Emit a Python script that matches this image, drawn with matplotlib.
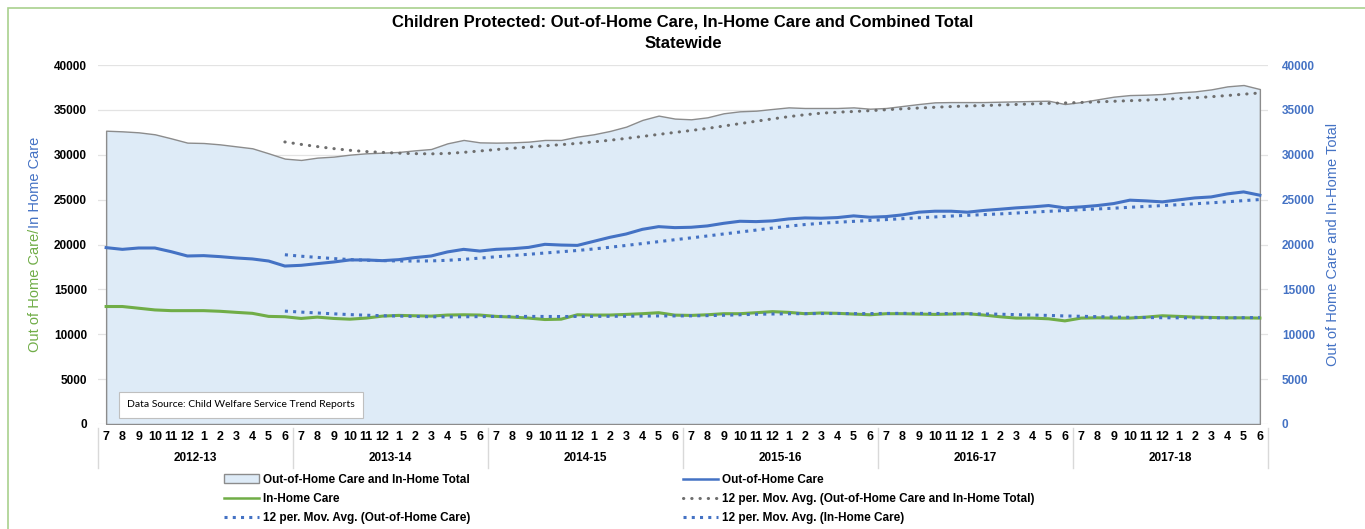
import matplotlib
matplotlib.use("Agg")
import matplotlib.pyplot as plt
import matplotlib.patches as mpatches
import matplotlib.transforms as mtransforms
from matplotlib.lines import Line2D
import numpy as np
import pandas as pd

plt.rcParams['font.family'] = ['Liberation Sans', 'DejaVu Sans']

# monthly values, July 2012 .. June 2018
total = [32680, 32610, 32500, 32280, 31830, 31350, 31310, 31160, 30940, 30720, 30160, 29570,
         29420, 29680, 29790, 30010, 30160, 30230, 30310, 30490, 30640, 31270, 31650, 31380,
         31350, 31380, 31460, 31650, 31650, 32020, 32280, 32650, 33130, 33880, 34360, 34030,
         33950, 34170, 34620, 34840, 34910, 35100, 35280, 35210, 35210, 35210, 35280, 35130,
         35210, 35430, 35650, 35840, 35870, 35870, 35870, 35910, 35950, 35990, 36020, 35650,
         35870, 36170, 36470, 36650, 36690, 36770, 36950, 37060, 37280, 37620, 37770, 37320]
out_of_home = [19650, 19460, 19610, 19610, 19200, 18720, 18760, 18650, 18500, 18390, 18160, 17600,
               17680, 17870, 18050, 18280, 18280, 18200, 18310, 18540, 18720, 19170, 19460, 19270,
               19460, 19530, 19680, 20020, 19940, 19900, 20350, 20800, 21170, 21690, 21990, 21880,
               21920, 22070, 22360, 22590, 22550, 22630, 22850, 22960, 22930, 23000, 23190, 23040,
               23110, 23300, 23600, 23710, 23710, 23600, 23790, 23930, 24080, 24190, 24340, 24080,
               24190, 24340, 24560, 24940, 24860, 24750, 24970, 25190, 25300, 25640, 25860, 25490]
in_home = [13090, 13090, 12900, 12710, 12630, 12630, 12630, 12560, 12440, 12330, 11990, 11950,
           11760, 11910, 11760, 11680, 11800, 12020, 12100, 12060, 12020, 12140, 12170, 12140,
           11990, 11910, 11800, 11640, 11680, 12170, 12140, 12140, 12210, 12290, 12400, 12130,
           12100, 12170, 12290, 12290, 12400, 12520, 12440, 12290, 12370, 12330, 12250, 12170,
           12290, 12290, 12250, 12210, 12250, 12290, 12140, 11950, 11800, 11800, 11720, 11490,
           11800, 11830, 11800, 11800, 11910, 12060, 11990, 11910, 11870, 11830, 11830, 11800]

months = ["7", "8", "9", "10", "11", "12", "1", "2", "3", "4", "5", "6"]
fiscal_years = ["2012-13", "2013-14", "2014-15", "2015-16", "2016-17", "2017-18"]

BLUE = '#4472C4'
GREEN = '#70AD47'
GRAY = '#6E6E6E'
FILL = '#DEEBF7'

df = pd.DataFrame({'total': total, 'ooh': out_of_home, 'ih': in_home})
ma = df.rolling(12).mean()
x = np.arange(len(df))

fig = plt.figure(figsize=(13.65, 5.29), dpi=100)
ax = fig.add_axes([98/1365, 1-424/529, 1170/1365, 359/529])

ax.set_axisbelow(True)
ax.grid(axis='y', color='#E3E3E3', lw=0.9)
ax.fill_between(x, 0, df['total'], facecolor=FILL, edgecolor='#8C8C8C', lw=1.0, zorder=2)
ax.plot(x, df['ooh'], color=BLUE, lw=2.2, zorder=3)
ax.plot(x, df['ih'], color=GREEN, lw=2.2, zorder=3)
ax.plot(x, ma['total'], color=GRAY, lw=2.2, ls=(0, (0.1, 2.6)), dash_capstyle='round', zorder=4)
ax.plot(x, ma['ooh'], color=BLUE, lw=2.2, ls=(0, (1, 1.7)), zorder=4)
ax.plot(x, ma['ih'], color=BLUE, lw=2.2, ls=(0, (1, 1.7)), zorder=4)

ax.set_xlim(-0.5, len(df) - 0.5)
ax.set_ylim(0, 40000)
ax.set_yticks(np.arange(0, 40001, 5000))
for s in ax.spines.values():
    s.set_visible(False)
ax.tick_params(axis='y', length=0, pad=8, labelsize=8.5)
for lbl in ax.get_yticklabels():
    lbl.set_fontweight('bold')

ax.set_xticks(x)
ax.set_xticklabels(months * len(fiscal_years), fontweight='bold', fontsize=9)
ax.tick_params(axis='x', length=0, pad=5)

trans = mtransforms.blended_transform_factory(ax.transData, ax.transAxes)
for k, fy in enumerate(fiscal_years):
    ax.text(12*k + 5.5, -0.095, fy, transform=trans, ha='center', va='center',
            fontweight='bold', fontsize=8.5)
for k in range(len(fiscal_years) + 1):
    ax.plot([12*k - 0.5]*2, [-0.011, -0.123], transform=trans, color='#D9D9D9',
            lw=1, clip_on=False)

ax2 = ax.twinx()
ax2.set_ylim(0, 40000)
ax2.set_yticks(np.arange(0, 40001, 5000))
for s in ax2.spines.values():
    s.set_visible(False)
ax2.tick_params(axis='y', length=0, pad=10, labelsize=8.5, labelcolor=BLUE)
for lbl in ax2.get_yticklabels():
    lbl.set_fontweight('bold')
ax2.set_ylabel('Out of Home Care and In-Home Total', color=BLUE, fontsize=10.5, labelpad=8)

ax.text(0.025, 0.053, 'Data Source: Child Welfare Service Trend Reports', transform=ax.transAxes,
        fontsize=7.5, family=['Lato', 'DejaVu Sans'], va='center', ha='left', zorder=6,
        bbox=dict(boxstyle='square,pad=0.8', facecolor='white', edgecolor='#BFBFBF', lw=0.8))

fig.text(683/1365, 1-22/529, 'Children Protected: Out-of-Home Care, In-Home Care and Combined Total',
         ha='center', va='center', fontweight='bold', fontsize=12)
fig.text(683/1365, 1-43/529, 'Statewide', ha='center', va='center', fontweight='bold', fontsize=12)

# two-coloured left axis title
fig.canvas.draw()
r = fig.canvas.get_renderer()
lx = 35/1365
t1 = fig.text(lx, 0, 'Out of Home Care/', rotation=90, color=GREEN, fontsize=10.5,
              ha='center', va='bottom')
t2 = fig.text(lx, 0, 'In Home Care', rotation=90, color=BLUE, fontsize=10.5,
              ha='center', va='bottom')
h1 = t1.get_window_extent(r).height / fig.bbox.height
h2 = t2.get_window_extent(r).height / fig.bbox.height
yc = 1 - 244.5/529
t1.set_y(yc - (h1 + h2)/2)
t2.set_y(yc - (h1 + h2)/2 + h1)

handles = [
    mpatches.Patch(facecolor=FILL, edgecolor='#8C8C8C', lw=1.0, label='Out-of-Home Care and In-Home Total'),
    Line2D([], [], color=GREEN, lw=1.8, label='In-Home Care'),
    Line2D([], [], color=BLUE, lw=2.2, ls=(0, (1, 1.7)), label='12 per. Mov. Avg. (Out-of-Home Care)'),
    Line2D([], [], color=BLUE, lw=1.8, label='Out-of-Home Care'),
    Line2D([], [], color=GRAY, lw=2.2, ls=(0, (0.1, 2.6)), dash_capstyle='round',
           label='12 per. Mov. Avg. (Out-of-Home Care and In-Home Total)'),
    Line2D([], [], color=BLUE, lw=2.2, ls=(0, (1, 1.7)), label='12 per. Mov. Avg. (In-Home Care)'),
]
fig.legend(handles=handles, ncol=2, loc='upper left', bbox_to_anchor=(219/1365, 1-469/529),
           frameon=False, prop={'weight': 'bold', 'size': 8.5}, handlelength=3.0,
           handletextpad=0.3, columnspacing=18.0, labelspacing=0.6, borderaxespad=0)

fig.patches.append(mpatches.Rectangle((8/1365, -0.1), 1.2, 1 - 8/529 + 0.1, transform=fig.transFigure,
                                      fill=False, edgecolor='#A9D18E', lw=1.2))

fig.savefig('out.png', dpi=100)
